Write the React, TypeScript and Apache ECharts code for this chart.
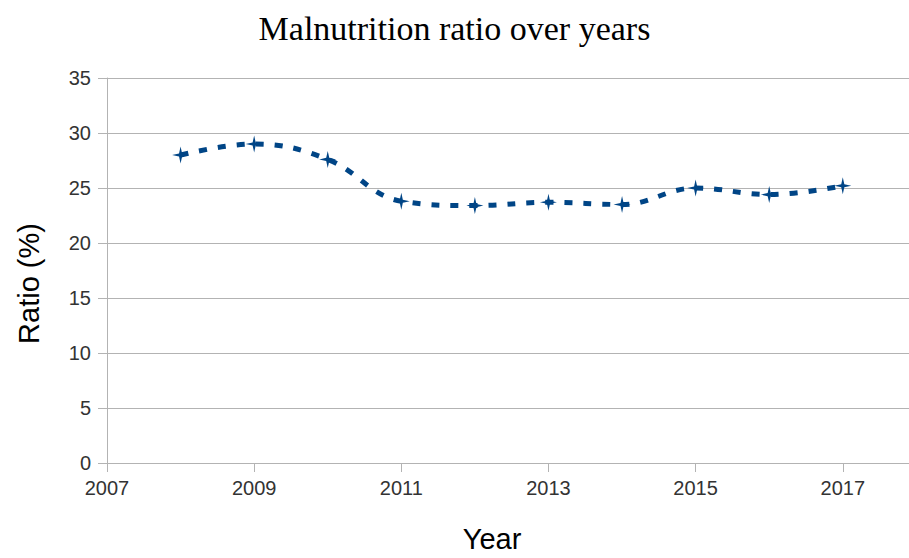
import React, { useEffect, useRef } from "react";
import * as echarts from "echarts";

const years = [2008, 2009, 2010, 2011, 2012, 2013, 2014, 2015, 2016, 2017];
const ratios = [28.0, 29.0, 27.6, 23.8, 23.4, 23.7, 23.5, 25.0, 24.4, 25.2];
const xTickValues = [2007, 2009, 2011, 2013, 2015, 2017];
const titleText = "Malnutrition ratio over years";
const xName = "Year";
const yName = "Ratio (%)";

const STAR = "path://M0,-10 L1.8,-1.8 L10,0 L1.8,1.8 L0,10 L-1.8,1.8 L-10,0 L-1.8,-1.8 Z";

export default function App() {
  const ref = useRef<HTMLDivElement>(null);
  useEffect(() => {
    if (!ref.current) return;
    const chart = echarts.init(ref.current, null, { renderer: "svg" });
    const gray = "#b3b3b3";
    const labelColor = "#333333";
    chart.setOption({
      animation: false,
      backgroundColor: "#ffffff",
      title: {
        text: titleText,
        left: "center",
        top: 6,
        textStyle: {
          fontFamily: "Liberation Serif",
          fontSize: 34,
          fontWeight: "normal",
          color: "#000000",
        },
      },
      grid: { left: 107, right: 0, top: 78, bottom: 88, containLabel: false },
      xAxis: {
        type: "value",
        min: 2007,
        max: 2017.9,
        interval: 2,
        name: xName,
        nameLocation: "middle",
        nameGap: 61,
        nameTextStyle: {
          fontFamily: "Liberation Sans",
          fontSize: 29,
          color: "#000000",
          padding: [0, 32, 0, 0],
        },
        axisLine: { show: true, lineStyle: { color: gray, width: 1 } },
        axisTick: {
          show: true,
          length: 9,
          lineStyle: { color: gray },
          customValues: xTickValues,
        },
        axisLabel: {
          customValues: xTickValues,
          margin: 15,
          fontFamily: "Liberation Sans",
          fontSize: 20,
          color: labelColor,
          formatter: (v: number) => String(v),
        },
        splitLine: { show: false },
      },
      yAxis: {
        type: "value",
        min: 0,
        max: 35,
        interval: 5,
        name: yName,
        nameLocation: "middle",
        nameGap: 64,
        nameRotate: 90,
        nameTextStyle: {
          fontFamily: "Liberation Sans",
          fontSize: 29,
          color: "#000000",
          padding: [0, 26, 0, 0],
        },
        axisLine: { show: true, lineStyle: { color: gray, width: 1 } },
        axisTick: { show: true, length: 9, lineStyle: { color: gray } },
        axisLabel: {
          margin: 16,
          fontFamily: "Liberation Sans",
          fontSize: 20,
          color: labelColor,
        },
        splitLine: { show: true, lineStyle: { color: gray, width: 1 } },
      },
      series: [
        {
          type: "line",
          data: years.map((y, i) => [y, ratios[i]]),
          smooth: 0.4,
          symbol: STAR,
          symbolSize: 17,
          itemStyle: { color: "#004586" },
          lineStyle: {
            color: "#004586",
            width: 5,
            type: [8, 11],
            cap: "butt",
          },
        },
      ],
    });
    return () => chart.dispose();
  }, []);
  return (
    <div
      ref={ref}
      style={{ position: "absolute", left: 0, top: 0, width: 909, height: 558 }}
    />
  );
}
